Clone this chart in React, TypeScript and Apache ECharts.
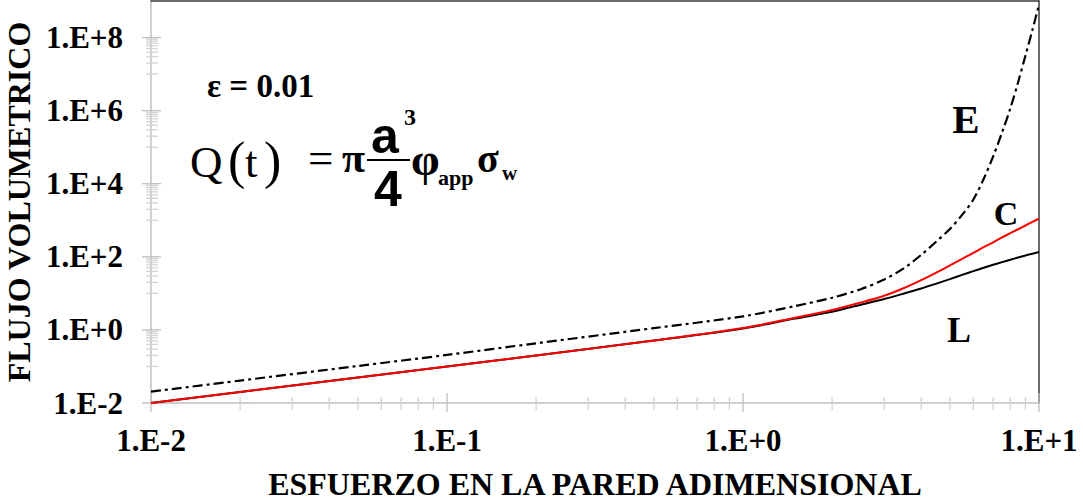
import React, { useEffect, useRef } from "react";
import * as echarts from "echarts";

// Dimensionless wall stress (x) and volumetric flow (y) for the three models
const sigma = [0.01, 0.02, 0.05, 0.1, 0.2, 0.5, 1, 1.5, 2, 2.5, 3, 3.5, 4, 4.5, 5, 5.5, 6, 6.5, 7, 7.5, 8, 8.5, 9, 9.5, 10];
const flowL = [0.01, 0.02, 0.05, 0.1, 0.2, 0.51, 1.1, 2.05, 3.15, 4.9, 7.0, 9.9, 13.6, 18.5, 24.5, 32, 40.5, 50, 60.5, 71.5, 83, 95.5, 108.5, 122, 136];
const flowC = [0.01, 0.02, 0.05, 0.1, 0.2, 0.51, 1.12, 2.15, 3.5, 5.6, 8.6, 14, 23, 37, 58, 88, 128, 184, 250, 340, 443, 568, 720, 900, 1110];
const flowE = [0.0204, 0.041, 0.103, 0.207, 0.43, 1.12, 2.35, 4.5, 7.6, 13, 24, 49, 113, 262, 580, 1400, 3690, 13400, 56000, 251000, 1.15e6, 6.0e6, 3.2e7, 1.6e8, 8.0e8];

const xMin = 0.01;
const xMax = 10;
const yMin = 0.01;
const yMax = 1e9;

const xMajorTicks = [0.01, 0.1, 1, 10];
const xMinorTicks: number[] = [];
for (const d of [-2, -1, 0]) for (let k = 2; k <= 9; k++) xMinorTicks.push(Number((k * Math.pow(10, d)).toPrecision(6)));
const yMajorTicks = [1e-2, 1, 1e2, 1e4, 1e6, 1e8];
const yMinorTicks: number[] = [];
for (const n of [0, 2, 4, 6, 8]) for (let k = 1; k <= 9; k++) yMinorTicks.push(Number((k * Math.pow(10, n - 1)).toPrecision(6)));

const SERIF = '"Liberation Serif", "Times New Roman", serif';
const SANS = '"Liberation Sans", Arial, sans-serif';

const expLabel = (v: number) => {
  const e = Math.round(Math.log10(v));
  return "1.E" + (e >= 0 ? "+" : "-") + Math.abs(e);
};

function tickSeries(kind: "x" | "y", values: number[], before: number, after: number, color: string) {
  return {
    type: "custom",
    silent: true,
    clip: false,
    z: 1,
    data: values.map((v) => (kind === "x" ? [v, yMin] : [xMin, v])),
    renderItem: (_p: any, api: any) => {
      const pt = api.coord([api.value(0), api.value(1)]);
      const shape =
        kind === "x"
          ? { x1: pt[0], y1: pt[1] - before, x2: pt[0], y2: pt[1] + after }
          : { x1: pt[0] - before, y1: pt[1], x2: pt[0] + after, y2: pt[1] };
      return { type: "line", shape, style: { stroke: color, lineWidth: 1.3 } };
    },
  };
}

function txt(text: string, x: number, y: number, size: number, weight: string, family: string, align = "left") {
  return {
    type: "text",
    x,
    y,
    silent: true,
    style: { text, fontSize: size, fontWeight: weight, fontFamily: family, fill: "#000", align, verticalAlign: "middle" },
  };
}

export default function App() {
  const ref = useRef<HTMLDivElement>(null);
  useEffect(() => {
    document.body.style.margin = "0";
    const chart = echarts.init(ref.current!, null, { renderer: "svg" });
    const axisGray = "#bfbfbf";
    const logAxisCommon = { type: "log", logBase: 10, splitLine: { show: false }, minorTick: { show: false } };
    chart.setOption({
      animation: false,
      backgroundColor: "#fff",
      grid: { left: 151, right: 44, top: 1, bottom: 98, containLabel: false, outerBoundsMode: "none" },
      xAxis: [
        {
          ...logAxisCommon,
          min: xMin,
          max: xMax,
          axisLine: { show: true, lineStyle: { color: axisGray, width: 1.5 } },
          axisTick: { show: false },
          axisLabel: {
            margin: 22,
            fontSize: 31,
            fontWeight: "bold",
            fontFamily: SERIF,
            color: "#000",
            formatter: (v: number) => expLabel(v),
          },
          name: "ESFUERZO EN LA PARED ADIMENSIONAL",
          nameLocation: "middle",
          nameGap: 65,
          nameTextStyle: { fontSize: 32, fontWeight: "bold", fontFamily: SERIF, color: "#000" },
        },
        {
          ...logAxisCommon,
          position: "top",
          min: xMin,
          max: xMax,
          axisLine: { show: true, lineStyle: { color: "#3a3a3a", width: 1.5 } },
          axisTick: { show: false },
          axisLabel: { show: false },
        },
      ],
      yAxis: [
        {
          ...logAxisCommon,
          min: yMin,
          max: yMax,
          interval: 2,
          axisLine: { show: true, lineStyle: { color: axisGray, width: 1.5 } },
          axisTick: { show: false },
          axisLabel: {
            margin: 28,
            fontSize: 31,
            fontWeight: "bold",
            fontFamily: SERIF,
            color: "#000",
            showMaxLabel: false,
            formatter: (v: number) => {
              const e = Math.round(Math.log10(v));
              return e % 2 === 0 && e <= 8 ? expLabel(v) : "";
            },
          },
          name: "FLUJO VOLUMETRICO",
          nameLocation: "middle",
          nameGap: 108,
          nameTextStyle: { fontSize: 32, fontWeight: "bold", fontFamily: SERIF, color: "#000" },
        },
        {
          ...logAxisCommon,
          position: "right",
          min: yMin,
          max: yMax,
          axisLine: { show: true, lineStyle: { color: "#3a3a3a", width: 1.5 } },
          axisTick: { show: false },
          axisLabel: { show: false },
        },
      ],
      series: [
        tickSeries("x", xMinorTicks, 6, 7, "#d4d4d4"),
        tickSeries("x", xMajorTicks, 10, 9, axisGray),
        tickSeries("y", yMinorTicks, 5, 7, "#d4d4d4"),
        tickSeries("y", yMajorTicks, 9, 10, axisGray),
        {
          name: "E",
          type: "line",
          showSymbol: false,
          smooth: 0.3,
          z: 3,
          data: sigma.map((s, i) => [s, flowE[i]]),
          lineStyle: { color: "#000", width: 2.2, type: [10, 4, 3, 4] },
        },
        {
          name: "L",
          type: "line",
          showSymbol: false,
          smooth: 0.3,
          z: 3,
          data: sigma.map((s, i) => [s, flowL[i]]),
          lineStyle: { color: "#000", width: 2 },
        },
        {
          name: "C",
          type: "line",
          showSymbol: false,
          smooth: 0.3,
          z: 4,
          data: sigma.map((s, i) => [s, flowC[i]]),
          lineStyle: { color: "#ff0000", width: 2 },
        },
      ],
      graphic: [
        txt("ε = 0.01", 207, 86, 33, "bold", SERIF),
        txt("Q", 190, 162, 45, "normal", SERIF),
        txt("(", 228, 160, 52, "normal", SERIF),
        txt("t", 245, 162, 45, "normal", SERIF),
        txt(")", 264, 160, 52, "normal", SERIF),
        txt("=", 308, 158, 45, "normal", SERIF),
        txt("π", 342, 158, 42, "bold", SERIF),
        txt("a", 371, 136, 50, "bold", SANS),
        txt("3", 404, 117, 24, "bold", SERIF),
        {
          type: "line",
          silent: true,
          shape: { x1: 367, y1: 160, x2: 410, y2: 160 },
          style: { stroke: "#000", lineWidth: 2 },
        },
        txt("4", 374, 189, 50, "bold", SANS),
        txt("φ", 411, 159, 46, "bold", SERIF),
        txt("app", 438, 177, 22, "bold", SERIF),
        txt("σ", 477, 158, 40, "bold", SERIF),
        txt("w", 502, 173, 21, "bold", SERIF),
        txt("E", 966, 119, 41, "bold", SERIF, "center"),
        txt("C", 1006, 213, 34, "bold", SERIF, "center"),
        txt("L", 959, 330, 36, "bold", SERIF, "center"),
      ],
    });
    return () => chart.dispose();
  }, []);
  return <div ref={ref} style={{ width: 1083, height: 501 }} />;
}
